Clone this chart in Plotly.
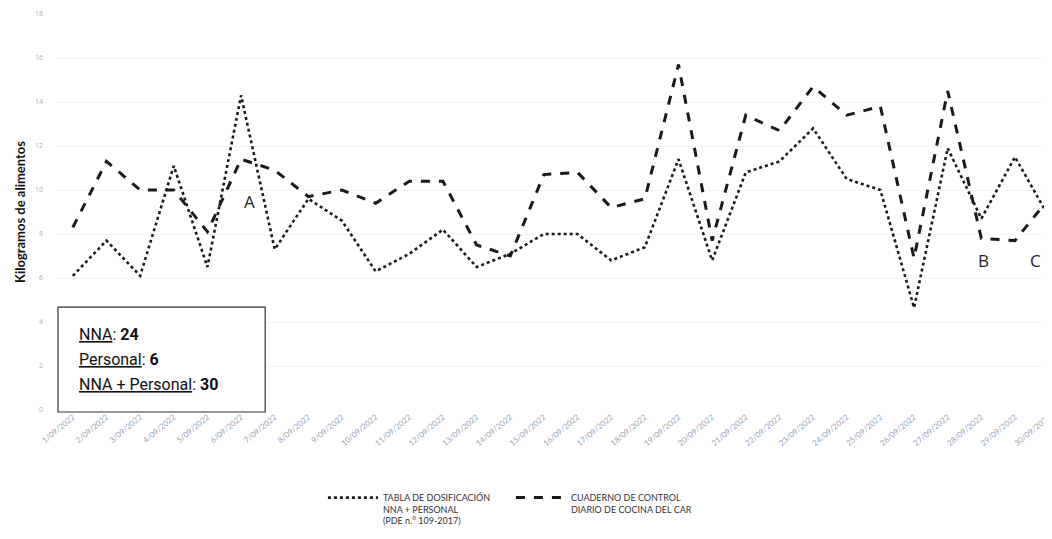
import plotly.graph_objects as go

dates = [f"{d}/09/2022" for d in range(1, 31)]

tabla = [6.1, 7.7, 6.1, 11.1, 6.5, 14.3, 7.3, 9.6, 8.6, 6.3,
         7.1, 8.2, 6.5, 7.1, 8.0, 8.0, 6.8, 7.4, 11.4, 6.8,
         10.8, 11.3, 12.8, 10.5, 10.0, 4.65, 11.9, 8.7, 11.5, 8.8]

cuaderno = [8.3, 11.3, 10.0, 10.0, 8.1, 11.4, 10.9, 9.7, 10.0, 9.4,
            10.4, 10.4, 7.5, 7.0, 10.7, 10.8, 9.2, 9.6, 15.7, 7.7,
            13.4, 12.7, 14.7, 13.4, 13.8, 6.9, 14.5, 7.8, 7.7, 9.6]

name_tabla = "TABLA DE DOSIFICACIÓN<br>NNA + PERSONAL<br>(PDE n.° 109-2017)"
name_cuaderno = "CUADERNO DE CONTROL<br>DIARIO DE COCINA DEL CAR"

y_ticks = [0, 2, 4, 6, 8, 10, 12, 14, 16, 18]

labels = ["A", "B", "C"]
label_x = [5.25, 27.05, 28.6]
label_y = [9.5, 6.8, 6.8]

box_lines = ["<u>NNA</u>: <b>24</b>",
             "<u>Personal</u>: <b>6</b>",
             "<u>NNA + Personal</u>: <b>30</b>"]

x = list(range(len(dates)))

fig = go.Figure()
fig.add_trace(go.Scatter(
    x=x, y=tabla, mode="lines", name=name_tabla,
    line=dict(color="#1a1a1a", width=2.6, dash="dot"),
))
fig.add_trace(go.Scatter(
    x=x, y=cuaderno, mode="lines", name=name_cuaderno,
    line=dict(color="#1a1a1a", width=3, dash="dash"),
))

for t, lx, ly in zip(labels, label_x, label_y):
    fig.add_annotation(x=lx, y=ly, text=t, showarrow=False,
                       font=dict(family="Open Sans, Lato, sans-serif", size=17, color="#222"))

# info box
fig.add_shape(type="rect", xref="paper", yref="paper",
              x0=0.002, x1=0.21, y0=-0.005, y1=0.26,
              line=dict(color="#333", width=1.2), fillcolor="white")
for i, line in enumerate(box_lines):
    fig.add_annotation(
        xref="paper", yref="paper", x=0.021, y=0.19 - i * 0.063,
        xanchor="left", yanchor="middle", align="left", showarrow=False,
        text=line,
        font=dict(family="Roboto, sans-serif", size=16, color="#111"),
    )

fig.update_layout(
    width=1052, height=539,
    margin=dict(l=48, r=8, t=6, b=137),
    paper_bgcolor="white", plot_bgcolor="white",
    showlegend=True,
    legend=dict(orientation="h", x=0.268, xanchor="left", y=-0.19, yanchor="top",
                valign="top", entrywidth=123, itemwidth=50,
                font=dict(family="Lato, DejaVu Sans, sans-serif", size=9, color="#333")),
    xaxis=dict(
        range=[-0.5, 29.1], automargin=False,
        tickmode="array", tickvals=x, ticktext=dates,
        tickangle=-40, tickfont=dict(size=8, color="#9aa0b4", family="Lato, sans-serif"),
        showgrid=False, zeroline=False, showline=False, ticks="",
    ),
    yaxis=dict(
        range=[0, 18], automargin=False,
        tickvals=y_ticks, ticklabelstandoff=12, ticklabeloverflow="allow",
        tickfont=dict(size=7, color="#b0b0b0"),
        gridcolor="#f4f4f4", zeroline=False, showline=False,
        title=dict(text="<b>Kilogramos de alimentos</b>",
                   font=dict(family="Lato, Open Sans, sans-serif", size=13, color="#111"),
                   standoff=6),
    ),
)

fig.write_html("out.html")
